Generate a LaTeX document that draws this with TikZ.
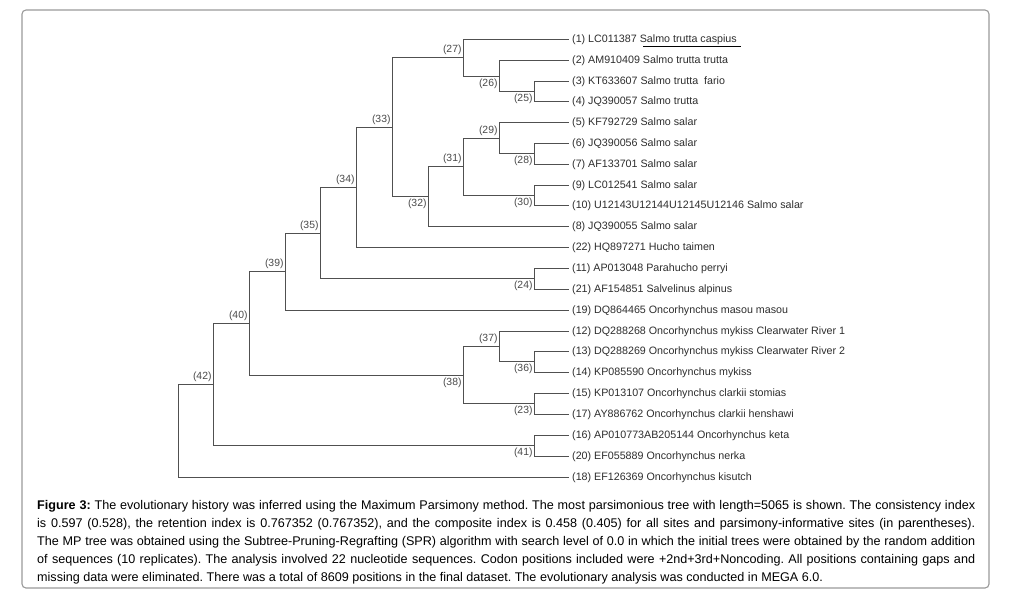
\documentclass[tikz,border=0pt]{standalone}
\usepackage{fontspec}
\setmainfont{Liberation Sans}
\definecolor{treegray}{HTML}{505050}
\definecolor{leafcol}{HTML}{2E2E2E}
\definecolor{labcol}{HTML}{4A4A4A}
\definecolor{framegray}{HTML}{9A9A9A}
\begin{document}
\begin{tikzpicture}[x=1pt,y=-1pt,
  br/.style={draw=treegray, line width=1.4pt},
  leaf/.style={anchor=west, inner ysep=0pt, inner xsep=3.5pt, font=\fontsize{10.7}{12}\selectfont, text=leafcol, text height=7.6pt, text depth=2.5pt},
  labup/.style={anchor=south east, inner sep=0.8pt, font=\fontsize{10.4}{12}\selectfont, text=labcol},
  labdn/.style={anchor=north east, inner sep=0.8pt, font=\fontsize{10.4}{12}\selectfont, text=labcol},
]
\useasboundingbox (0,0) rectangle (1018,606);
\fill[white] (0,0) rectangle (1018,606);
\draw[framegray, line width=1.1pt, rounded corners=4pt] (22,10) rectangle (989,588);

% leaves
\def\lx{568.5}
\node[leaf] (l1)  at (\lx,39.5)  {(1) LC011387 Salmo trutta caspius};
\node[leaf] (l2)  at (\lx,60.5)  {(2) AM910409 Salmo trutta trutta};
\node[leaf] (l3)  at (\lx,81.5)  {(3) KT633607 Salmo trutta\ \ fario};
\node[leaf] (l4)  at (\lx,101.5) {(4) JQ390057 Salmo trutta};
\node[leaf] (l5)  at (\lx,122.5) {(5) KF792729 Salmo salar};
\node[leaf] (l6)  at (\lx,143.5) {(6) JQ390056 Salmo salar};
\node[leaf] (l7)  at (\lx,164.5) {(7) AF133701 Salmo salar};
\node[leaf] (l9)  at (\lx,185.5) {(9) LC012541 Salmo salar};
\node[leaf] (l10) at (\lx,205.5) {(10) U12143U12144U12145U12146 Salmo salar};
\node[leaf] (l8)  at (\lx,226.5) {(8) JQ390055 Salmo salar};
\node[leaf] (l22) at (\lx,247.5) {(22) HQ897271 Hucho taimen};
\node[leaf] (l11) at (\lx,268.5) {(11) AP013048 Parahucho perryi};
\node[leaf] (l21) at (\lx,289.5) {(21) AF154851 Salvelinus alpinus};
\node[leaf] (l19) at (\lx,310.5) {(19) DQ864465 Oncorhynchus masou masou};
\node[leaf] (l12) at (\lx,331.5) {(12) DQ288268 Oncorhynchus mykiss Clearwater River 1};
\node[leaf] (l13) at (\lx,351.5) {(13) DQ288269 Oncorhynchus mykiss Clearwater River 2};
\node[leaf] (l14) at (\lx,372.5) {(14) KP085590 Oncorhynchus mykiss};
\node[leaf] (l15) at (\lx,393.5) {(15) KP013107 Oncorhynchus clarkii stomias};
\node[leaf] (l17) at (\lx,414.5) {(17) AY886762 Oncorhynchus clarkii henshawi};
\node[leaf] (l16) at (\lx,435.5) {(16) AP010773AB205144 Oncorhynchus keta};
\node[leaf] (l20) at (\lx,456.5) {(20) EF055889 Oncorhynchus nerka};
\node[leaf] (l18) at (\lx,477.5) {(18) EF126369 Oncorhynchus kisutch};

% internal nodes
\coordinate (n25) at (534.5,91.5);
\coordinate (n26) at (499.5,76.5);
\coordinate (n27) at (463.5,57.5);
\coordinate (n28) at (534.5,153.5);
\coordinate (n29) at (499.5,138.5);
\coordinate (n30) at (534.5,195.5);
\coordinate (n31) at (463.5,166.5);
\coordinate (n32) at (428.5,196.5);
\coordinate (n33) at (392.5,127.5);
\coordinate (n34) at (356.5,187.5);
\coordinate (n24) at (534.5,278.5);
\coordinate (n35) at (320.5,233.5);
\coordinate (n39) at (285.5,271.5);
\coordinate (n36) at (534.5,361.5);
\coordinate (n37) at (499.5,346.5);
\coordinate (n23) at (534.5,403.5);
\coordinate (n38) at (463.5,375.5);
\coordinate (n40) at (249.5,323.5);
\coordinate (n41) at (534.5,445.5);
\coordinate (n42) at (213.5,384.5);
\coordinate (root) at (178.5,431.5);

% branches
\draw[br] (n25) |- (l3.west); \draw[br] (n25) |- (l4.west);
\draw[br] (n26) |- (l2.west); \draw[br] (n26) |- (n25);
\draw[br] (n27) |- (l1.west); \draw[br] (n27) |- (n26);
\draw[br] (n28) |- (l6.west); \draw[br] (n28) |- (l7.west);
\draw[br] (n29) |- (l5.west); \draw[br] (n29) |- (n28);
\draw[br] (n30) |- (l9.west); \draw[br] (n30) |- (l10.west);
\draw[br] (n31) |- (n29); \draw[br] (n31) |- (n30);
\draw[br] (n32) |- (n31); \draw[br] (n32) |- (l8.west);
\draw[br] (n33) |- (n27); \draw[br] (n33) |- (n32);
\draw[br] (n34) |- (n33); \draw[br] (n34) |- (l22.west);
\draw[br] (n24) |- (l11.west); \draw[br] (n24) |- (l21.west);
\draw[br] (n35) |- (n34); \draw[br] (n35) |- (n24);
\draw[br] (n39) |- (n35); \draw[br] (n39) |- (l19.west);
\draw[br] (n36) |- (l13.west); \draw[br] (n36) |- (l14.west);
\draw[br] (n37) |- (l12.west); \draw[br] (n37) |- (n36);
\draw[br] (n23) |- (l15.west); \draw[br] (n23) |- (l17.west);
\draw[br] (n38) |- (n37); \draw[br] (n38) |- (n23);
\draw[br] (n40) |- (n39); \draw[br] (n40) |- (n38);
\draw[br] (n41) |- (l16.west); \draw[br] (n41) |- (l20.west);
\draw[br] (n42) |- (n40); \draw[br] (n42) |- (n41);
\draw[br] (root) |- (n42); \draw[br] (root) |- (l18.west);

% node labels
\node[labup] (t27) at ([xshift=-1pt,yshift=2pt]n27) {(27)};
\node[labdn] (t26) at ([xshift=-1pt,yshift=-1pt]n26) {(26)};
\node[labdn] (t25) at ([xshift=-1pt,yshift=-1pt]n25) {(25)};
\node[labup] (t33) at ([xshift=-1pt,yshift=2pt]n33) {(33)};
\node[labup] (t29) at ([xshift=-1pt,yshift=2pt]n29) {(29)};
\node[labdn] (t28) at ([xshift=-1pt,yshift=-1pt]n28) {(28)};
\node[labup] (t31) at ([xshift=-1pt,yshift=2pt]n31) {(31)};
\node[labup] (t34) at ([xshift=-1pt,yshift=2pt]n34) {(34)};
\node[labdn] (t32) at ([xshift=-1pt,yshift=-1pt]n32) {(32)};
\node[labdn] (t30) at ([xshift=-1pt,yshift=-1pt]n30) {(30)};
\node[labup] (t35) at ([xshift=-1pt,yshift=2pt]n35) {(35)};
\node[labup] (t39) at ([xshift=-1pt,yshift=2pt]n39) {(39)};
\node[labdn] (t24) at ([xshift=-1pt,yshift=-1pt]n24) {(24)};
\node[labup] (t40) at ([xshift=-1pt,yshift=2pt]n40) {(40)};
\node[labup] (t37) at ([xshift=-1pt,yshift=2pt]n37) {(37)};
\node[labdn] (t36) at ([xshift=-1pt,yshift=-1pt]n36) {(36)};
\node[labup] (t42) at ([xshift=-1pt,yshift=2pt]n42) {(42)};
\node[labdn] (t38) at ([xshift=-1pt,yshift=-1pt]n38) {(38)};
\node[labdn] (t23) at ([xshift=-1pt,yshift=-1pt]n23) {(23)};
\node[labdn] (t41) at ([xshift=-1pt,yshift=-1pt]n41) {(41)};

% underline
\coordinate (ua) at (643,46.5);
\coordinate (ub) at (741,46.5);
\draw[line width=1.4pt, black] (ua) -- (ub);

% caption
\node[anchor=north west, inner sep=0pt, align=left, font=\fontsize{12.6}{18}\selectfont\frenchspacing] (cap) at (37,500.5) {%
\makebox[938pt][s]{\textbf{Figure 3:} The evolutionary history was inferred using the Maximum Parsimony method. The most parsimonious tree with length=5065 is shown. The consistency index}\\
\makebox[938pt][s]{is 0.597 (0.528), the retention index is 0.767352 (0.767352), and the composite index is 0.458 (0.405) for all sites and parsimony-informative sites (in parentheses).}\\
\makebox[938pt][s]{The MP tree was obtained using the Subtree-Pruning-Regrafting (SPR) algorithm with search level of 0.0 in which the initial trees were obtained by the random addition}\\
\makebox[938pt][s]{of sequences (10 replicates). The analysis involved 22 nucleotide sequences. Codon positions included were +2nd+3rd+Noncoding. All positions containing gaps and}\\
missing data were eliminated. There was a total of 8609 positions in the final dataset. The evolutionary analysis was conducted in MEGA 6.0.};
\end{tikzpicture}
\end{document}
